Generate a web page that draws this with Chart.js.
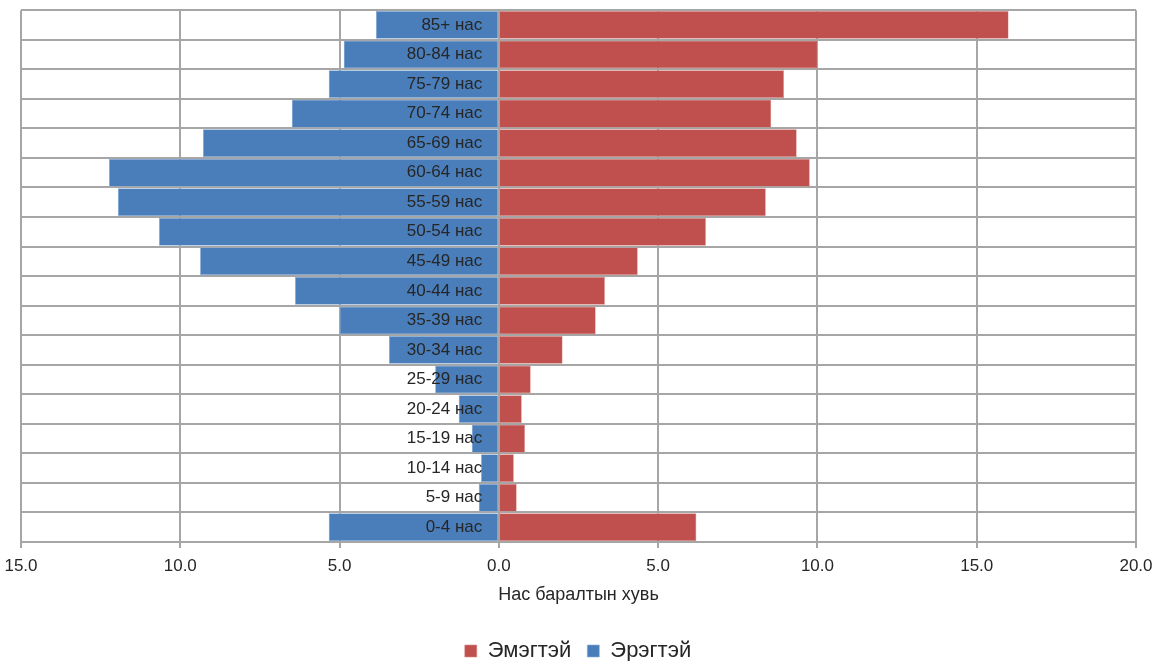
<!DOCTYPE html>
<html>
<head>
<meta charset="utf-8">
<script src="https://cdn.jsdelivr.net/npm/chart.js@4"></script>
<style>
html,body{margin:0;padding:0;background:#fff;}
#wrap{width:1156px;height:661px;position:relative;}
</style>
</head>
<body>
<div id="wrap"><canvas id="c" width="1156" height="661"></canvas></div>
<script>
const categories = ["85+ нас","80-84 нас","75-79 нас","70-74 нас","65-69 нас","60-64 нас","55-59 нас","50-54 нас","45-49 нас","40-44 нас","35-39 нас","30-34 нас","25-29 нас","20-24 нас","15-19 нас","10-14 нас","5-9 нас","0-4 нас"];
const female = [16.0,10.0,8.95,8.55,9.35,9.76,8.38,6.5,4.36,3.33,3.04,2.0,1.0,0.72,0.82,0.47,0.56,6.2];
const male = [3.86,4.87,5.34,6.5,9.29,12.24,11.96,10.67,9.38,6.4,4.99,3.45,2.0,1.26,0.85,0.56,0.63,5.34];
const xTicks = [-15,-10,-5,0,5,10,15,20];
const femaleLabel = "Эмэгтэй";
const maleLabel = "Эрэгтэй";
const axisTitle = "Нас баралтын хувь";

const FONT = "'Liberation Sans', Arial, sans-serif";
const gridColor = "#a6a6a6";

new Chart(document.getElementById('c'), {
  type: 'bar',
  data: {
    labels: categories,
    datasets: [
      {label: femaleLabel, data: female, backgroundColor: '#c0504d', borderColor: '#d98a88', borderWidth: 0.6, barPercentage: 0.94, categoryPercentage: 1},
      {label: maleLabel, data: male.map(v => -v), backgroundColor: '#4a7ebb', borderColor: '#8aaedb', borderWidth: 0.6, barPercentage: 0.94, categoryPercentage: 1}
    ]
  },
  options: {
    indexAxis: 'y',
    responsive: false,
    animation: false,
    layout: {padding: {top: -11, left: 0, right: 0, bottom: -11}},
    scales: {
      x: {
        type: 'linear',
        stacked: true,
        min: -15, max: 20,
        afterBuildTicks: s => { s.ticks = xTicks.map(v => ({value: v})); },
        afterFit: s => { s.paddingLeft = 21; s.paddingRight = 20; },
        ticks: {
          callback: v => Math.abs(v).toFixed(1),
          color: '#262626',
          font: {family: FONT, size: 17},
          padding: 8,
          maxRotation: 0
        },
        grid: {color: gridColor, lineWidth: 2, tickLength: 6},
        border: {color: gridColor, width: 2},
        title: {display: true, text: axisTitle, color: '#262626', font: {family: FONT, size: 18}, padding: {top: 0, bottom: 18}}
      },
      y: {
        type: 'category',
        stacked: true,
        position: {x: -0.52},
        ticks: {
          color: '#262626',
          font: {family: FONT, size: 17},
          padding: 0,
          z: 1
        },
        grid: {offset: true, color: gridColor, lineWidth: 2, drawTicks: false},
        border: {display: false}
      }
    },
    plugins: {
      legend: {
        position: 'bottom',
        labels: {
          color: '#262626',
          font: {family: FONT, size: 22},
          boxWidth: 12,
          boxHeight: 12,
          padding: 16
        }
      },
      tooltip: {enabled: false}
    }
  }
});
</script>
</body>
</html>
